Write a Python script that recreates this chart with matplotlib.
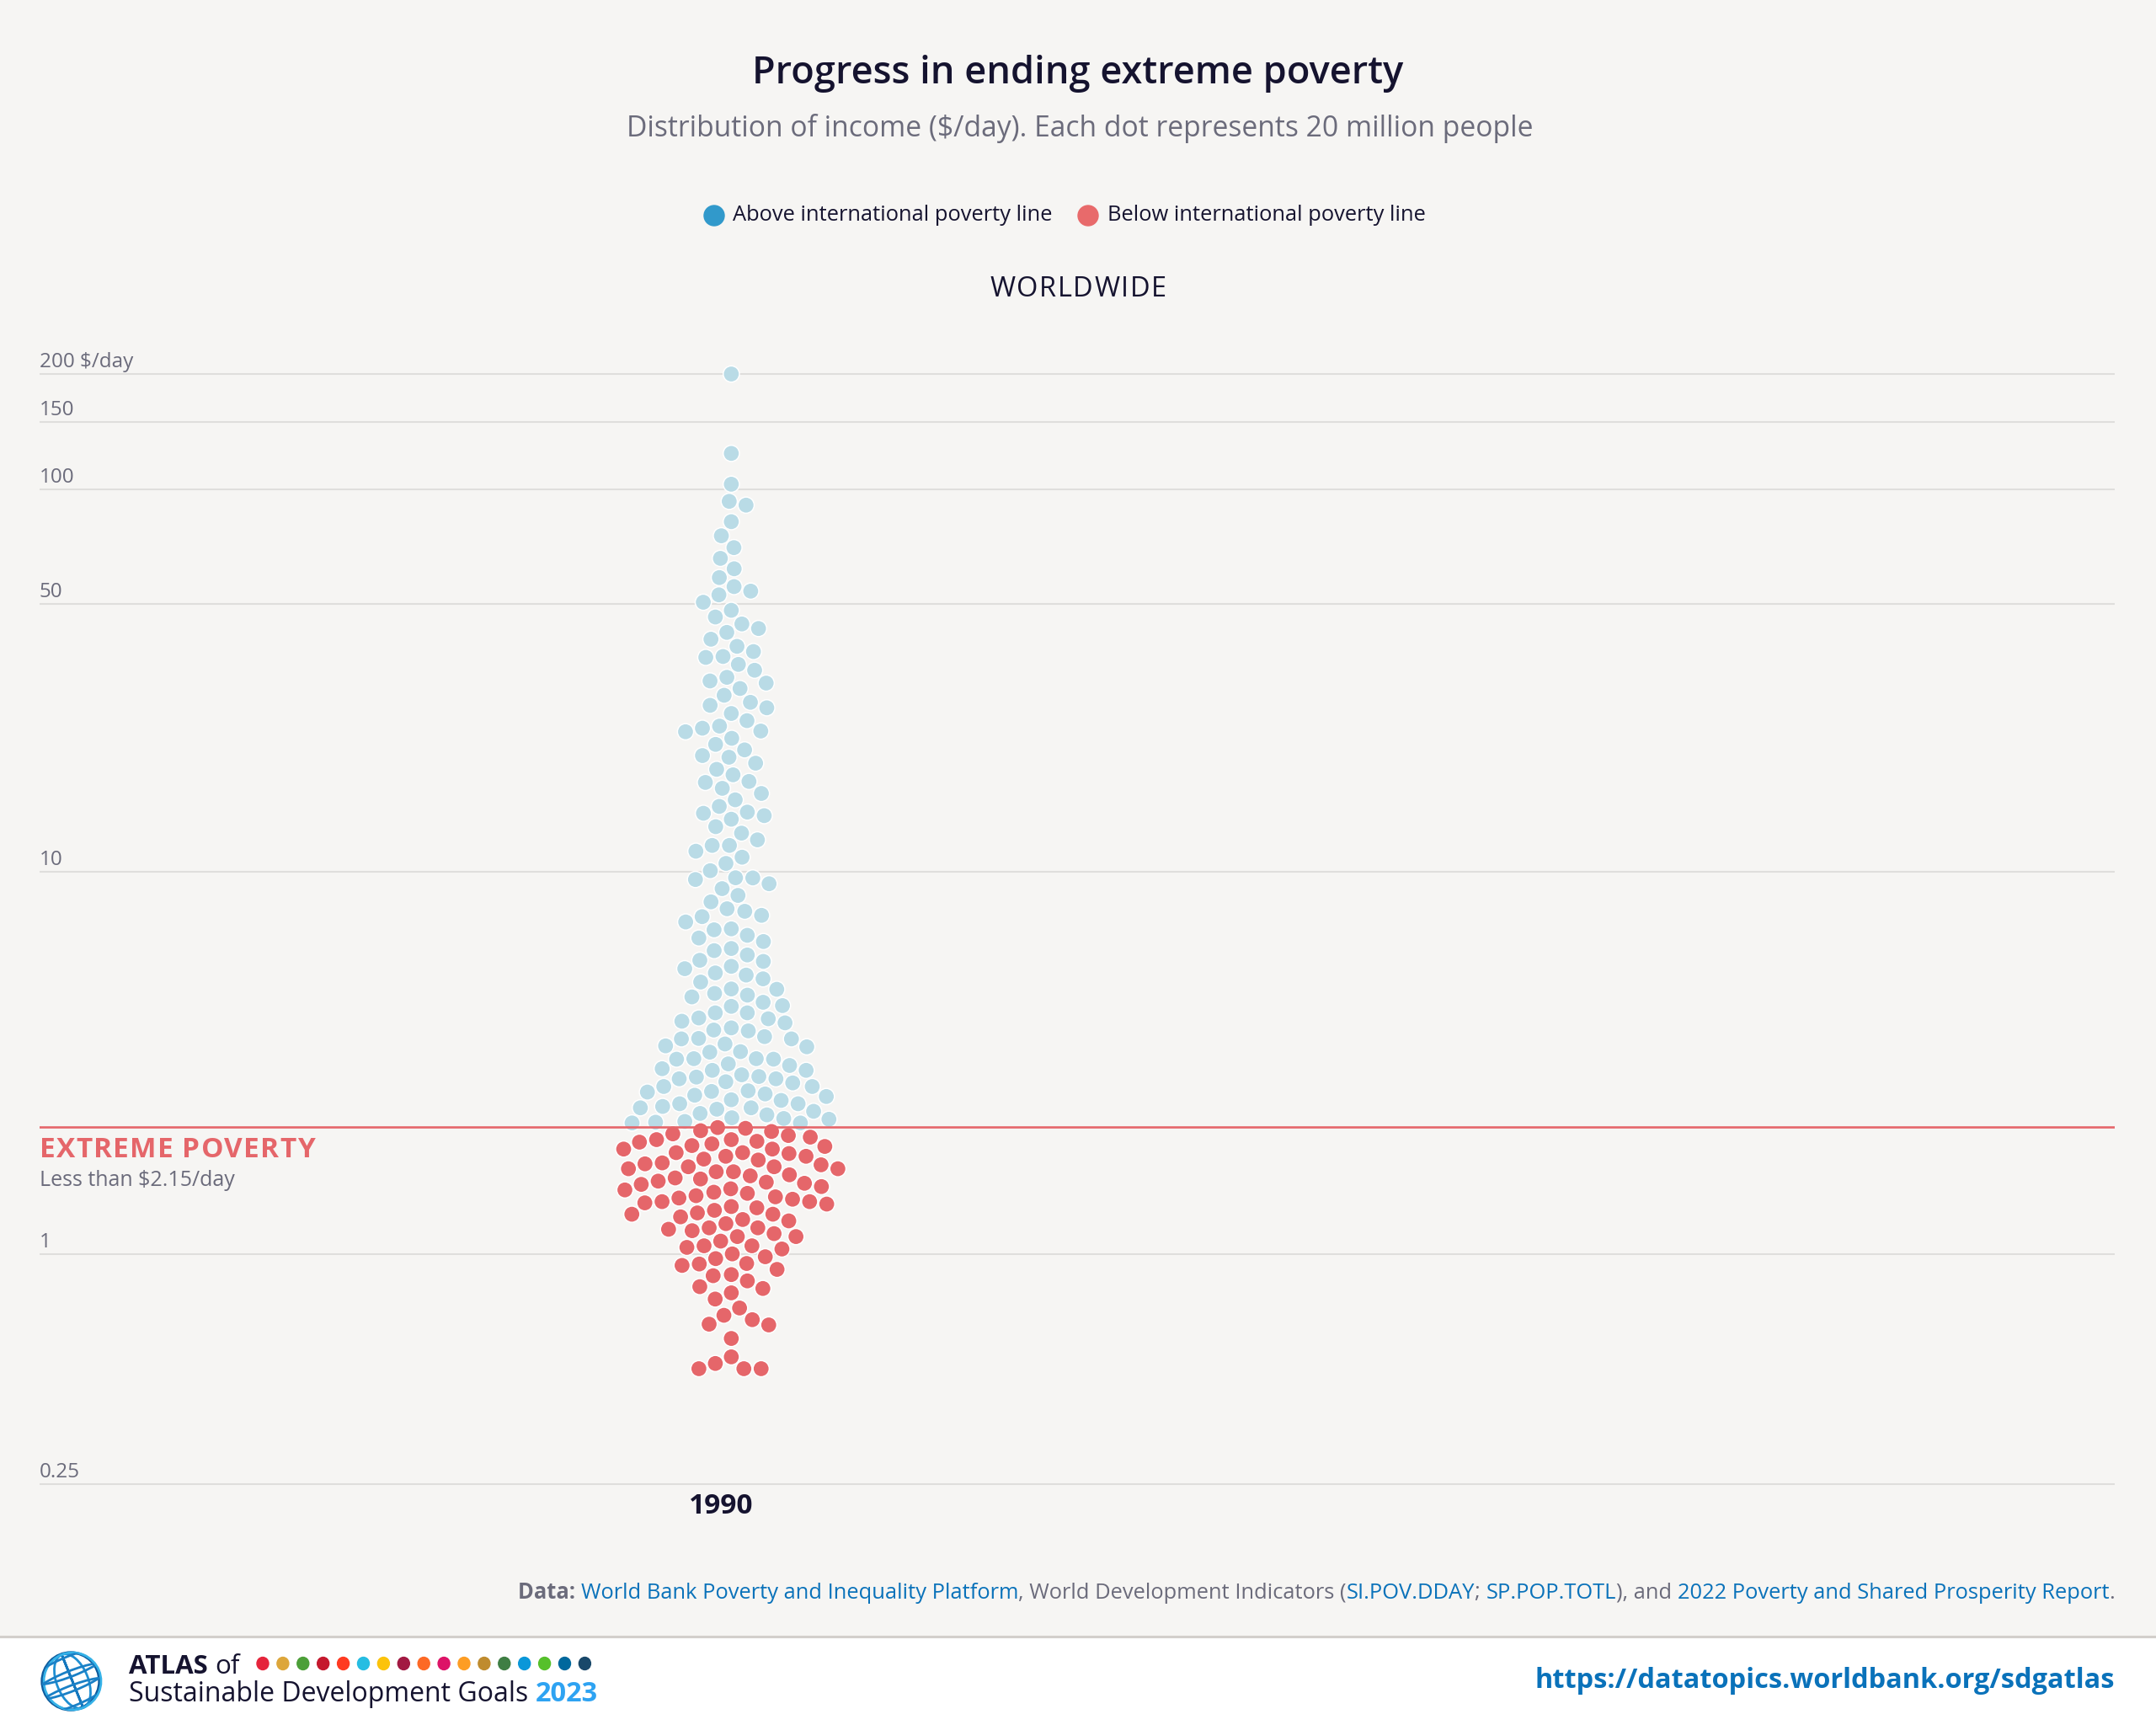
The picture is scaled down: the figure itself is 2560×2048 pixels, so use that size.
import matplotlib
matplotlib.use('Agg')
import matplotlib.pyplot as plt
from matplotlib.patches import Circle, Ellipse, Rectangle
from matplotlib.transforms import offset_copy
import numpy as np

plt.rcParams['font.family'] = ['Open Sans', 'DejaVu Sans']

# ---- data: income ($/day) of each dot, one dot = 20 million people (1990)
above_line = [200, 124, 103, 92.9, 90.8, 82.2, 75.5, 70.3, 65.9, 61.9, 58.7, 55.6, 52.9, 54.1, 50.6,
              48.2, 46.3, 44.4, 43.2, 42.2, 40.5, 38.8, 37.6, 36.3, 36.5, 34.8, 33.6, 32.2, 31.1, 31.5,
              30.1, 28.9, 27.2, 27.7, 26.8, 25.9, 24.8, 23.3, 23.7, 23.2, 24.0, 22.3, 21.5, 20.8, 20.1,
              19.9, 19.2, 18.5, 17.9, 17.2, 17.1, 16.5, 16.0, 15.4, 14.8, 14.0, 14.3, 14.2, 13.7, 13.1,
              12.6, 12.1, 11.7, 11.3, 11.7, 10.9, 10.5, 10.05, 9.62, 9.53, 9.63, 9.29, 9.02, 8.66,
              8.33, 7.87, 7.99, 7.68, 7.62, 7.38, 7.08, 7.04, 6.81, 6.56, 6.70, 6.29, 6.21, 6.05, 5.86,
              5.82, 5.57, 5.65, 5.43, 5.36, 5.24, 5.14, 4.92, 4.93, 4.80, 4.75, 4.70, 4.55, 4.44, 4.46,
              4.27, 4.27, 4.14, 4.12, 4.06, 4.02, 3.90, 3.85, 3.83, 3.66, 3.65, 3.65, 3.70, 3.50, 3.48,
              3.54, 3.37, 3.38, 3.24, 3.24, 3.23, 3.23, 3.11, 3.14, 3.05, 3.02, 3.02, 2.87, 2.90, 2.94,
              2.87, 2.91, 2.82, 2.80, 2.74, 2.74, 2.67, 2.62, 2.65, 2.66, 2.58, 2.60, 2.52, 2.47, 2.53,
              2.47, 2.36, 2.43, 2.41, 2.33, 2.39, 2.41, 2.31, 2.27, 2.26, 2.25, 2.21, 2.20, 2.22, 2.20]
below_line = [2.06, 2.13, 2.04, 2.10, 2.09, 2.14, 1.99, 1.96, 2.02, 1.97, 1.99, 1.91, 1.94, 1.88, 1.92,
              1.88, 1.84, 1.83, 1.84, 1.80, 1.80, 1.77, 1.76, 1.73, 1.72, 1.71, 1.67, 1.67, 1.69, 1.69,
              1.64, 1.64, 1.60, 1.61, 1.58, 1.57, 1.55, 1.54, 1.50, 1.52, 1.53, 1.48, 1.47, 1.45, 1.44,
              1.42, 1.41, 1.40, 1.39, 1.37, 1.37, 1.36, 1.35, 1.32, 1.30, 1.33, 1.28, 1.27, 1.27, 1.25,
              1.22, 1.23, 1.20, 1.17, 1.17, 1.16, 1.15, 1.13, 1.11, 1.11, 1.08, 1.04, 1.05, 1.05, 1.03,
              1.00, 0.983, 0.972, 0.944, 0.941, 0.933, 0.911, 0.883, 0.877, 0.850, 0.821, 0.812, 0.791,
              0.762, 0.722, 0.691, 0.673, 0.652, 0.655, 0.601, 0.538, 0.517, 0.501, 0.501, 0.501]
poverty_line = 2.15
years = ['1990']
tick_values = [200, 150, 100, 50, 10, 1, 0.25]
tick_labels = ['200 $/day', '150', '100', '50', '10', '1', '0.25']

# ---- colours
BG = '#f6f5f3'
NAVY = '#15132f'
GREY = '#6b6b7b'
LINK = '#0a72ba'
DOT_BLUE = '#b9dbe6'
DOT_RED = '#e5666a'
KEY_BLUE = '#3199cb'
KEY_RED = '#e86a6b'
GRID = '#dfdedc'

W, H = 2560, 2048
fig = plt.figure(figsize=(W / 100, H / 100), dpi=100, facecolor=BG)
r = fig.canvas.get_renderer()


def fx(x):
    return x / W


def fy(y):
    return 1 - y / H


def text_w(s, **kw):
    # width in pixels (keeps trailing spaces)
    t1 = fig.text(0, 0, '|' + s + '|', **kw)
    t2 = fig.text(0, 0, '||', **kw)
    w = t1.get_window_extent(r).width - t2.get_window_extent(r).width
    t1.remove()
    t2.remove()
    return w


def spaced(x, y, s, gap, ha='left', **kw):
    # text with letter spacing, x is left edge or centre
    ws = [text_w(ch, **kw) for ch in s]
    if ha == 'center':
        x -= (sum(ws) + gap * (len(s) - 1)) / 2
    for ch, w in zip(s, ws):
        fig.text(fx(x), fy(y), ch, ha='left', **kw)
        x += w + gap


# background decorations, pixel coordinates
deco = fig.add_axes([0, 0, 1, 1], zorder=0)
deco.set_xlim(0, W)
deco.set_ylim(H, 0)
deco.axis('off')
deco.add_patch(Rectangle((0, 1943), W, H - 1943, color='white', zorder=0))
deco.plot([0, W], [1943, 1943], color='#d3cfcb', lw=2.2, zorder=1)

# ---- main swarm axes
left, right, top, bottom = 47, 2511, 400, 1780
PPD, Y1 = 454.0, 1488.7  # pixels per decade, pixel row of $1
ax = fig.add_axes([fx(left), fy(bottom), (right - left) / W, (bottom - top) / H], zorder=1)
ax.set_facecolor('none')
ax.set_yscale('log')
ax.set_ylim(10 ** ((Y1 - bottom) / PPD), 10 ** ((Y1 - top) / PPD))
ax.set_xlim(-1, 2)
for s in ax.spines.values():
    s.set_visible(False)
ax.set_xticks([])
ax.set_yticks([])
ax.minorticks_off()

lab_tr = offset_copy(ax.get_yaxis_transform(), fig=fig, x=0, y=8, units='dots')
for v, lab in zip(tick_values, tick_labels):
    ax.axhline(v, color=GRID, lw=1.5, zorder=1)
    ax.text(0, v, lab, transform=lab_tr, ha='left', va='baseline', fontsize=17.5, color=GREY)

ax.axhline(poverty_line, color=DOT_RED, lw=1.9, zorder=4)

# ---- beeswarm layout (greedy, closest to the centre line)
vals = np.array(above_line + below_line)
cols = [DOT_BLUE] * len(above_line) + [DOT_RED] * len(below_line)
order = np.argsort(-vals, kind='stable')
disp = ax.transData.transform(np.column_stack([np.zeros(len(vals)), vals]))
D = 20.5
placed = []
dx = np.zeros(len(vals))
for i in order:
    y = disp[i, 1]
    near = [(px, py) for px, py in placed if abs(py - y) < D]
    cands = [0.0]
    for px, py in near:
        h = np.sqrt(D * D - (py - y) ** 2)
        cands += [px - h, px + h]
    cands.sort(key=abs)
    for c in cands:
        if all((c - px) ** 2 + (y - py) ** 2 >= D * D - 1e-6 for px, py in near):
            break
    dx[i] = c
    placed.append((c, y))

pts = ax.transData.inverted().transform(np.column_stack([disp[:, 0] + dx, disp[:, 1]]))
ax.scatter(pts[:, 0], vals, s=192, c=cols, edgecolors='white', linewidths=1.1, zorder=3, clip_on=False)

year_tr = offset_copy(ax.get_xaxis_transform(), fig=fig, x=-12, y=0, units='dots')
for k, yr in enumerate(years):
    ax.text(k, 0.006, yr, transform=year_tr, ha='center', va='top', fontsize=24,
            fontweight='bold', color=NAVY)

# ---- titles and legend
fig.text(fx(1280), fy(87), 'Progress in ending extreme poverty', ha='center', va='center',
         fontsize=32.5, fontweight='semibold', color=NAVY)
fig.text(fx(1282), fy(153), 'Distribution of income ($/day). Each dot represents 20 million people',
         ha='center', va='center', fontsize=24.2, color=GREY)
deco.add_patch(Circle((848, 256), 12, color=KEY_BLUE, zorder=2))
fig.text(fx(870), fy(256), 'Above international poverty line', ha='left', va='center',
         fontsize=18.4, color=NAVY)
deco.add_patch(Circle((1292, 256), 12, color=KEY_RED, zorder=2))
fig.text(fx(1315), fy(256), 'Below international poverty line', ha='left', va='center',
         fontsize=18.4, color=NAVY)
spaced(1280, 352, 'WORLDWIDE', 1.6, ha='center', va='baseline', fontsize=23.5, color=NAVY)

# poverty label with letter spacing
spaced(47, 1374, 'EXTREME POVERTY', 1.2, va='baseline', fontsize=24, fontweight='bold',
       color=DOT_RED)
fig.text(fx(47), fy(1408), 'Less than $2.15/day', ha='left', va='baseline', fontsize=18, color=GREY)

# ---- source line (right aligned, mixed colours)
pieces = [('Data: ', GREY, 'bold'),
          ('World Bank Poverty and Inequality Platform', LINK, 'normal'),
          (', World Development Indicators (', GREY, 'normal'),
          ('SI.POV.DDAY', LINK, 'normal'),
          ('; ', GREY, 'normal'),
          ('SP.POP.TOTL', LINK, 'normal'),
          ('), and ', GREY, 'normal'),
          ('2022 Poverty and Shared Prosperity Report', LINK, 'normal'),
          ('.', GREY, 'normal')]
widths = [text_w(p, fontsize=18.4, fontweight=wt) for p, c, wt in pieces]
xx = 2511 - sum(widths)
for (p, c, wt), w in zip(pieces, widths):
    fig.text(fx(xx), fy(1891), p, ha='left', va='center', fontsize=18.4, fontweight=wt, color=c)
    xx += w

# ---- footer: logo, atlas name, url
gx, gy, gr = 84, 1996, 34
rim = Circle((gx, gy), gr, fill=False, lw=2.4, ec='#0e5c9e', zorder=3)
deco.add_patch(rim)
for wf, c in [(0.0, '#1577bd'), (0.55, '#1f8fd2'), (1.0, '#35b2e8')]:
    e = Ellipse((gx + 2, gy), 2 * gr * wf, 2 * gr, angle=-22, fill=False, lw=2.0, ec=c, zorder=3)
    deco.add_patch(e)
for off in [-18, 0, 18]:
    e = Ellipse((gx, gy + off), 3.0 * gr, 0.7 * gr, angle=-22, fill=False, lw=2.0,
                ec='#1a80c6', zorder=3)
    deco.add_patch(e)
    e.set_clip_path(rim)

fig.text(fx(153), fy(1987), 'ATLAS', ha='left', va='baseline', fontsize=22.5, fontweight='bold',
         color=NAVY)
fig.text(fx(153 + text_w('ATLAS ', fontsize=22.5, fontweight='bold')), fy(1987), 'of', ha='left',
         va='baseline', fontsize=22.5, color=NAVY)
sdg_colors = ['#e5243b', '#dda63a', '#4c9f38', '#c5192d', '#ff3a21', '#26bde2', '#fcc30b',
              '#a21942', '#fd6925', '#dd1367', '#fd9d24', '#bf8b2e', '#3f7e44', '#0a97d9',
              '#56c02b', '#00689d', '#19486a']
for k, c in enumerate(sdg_colors):
    deco.add_patch(Ellipse((312 + k * 23.9, 1975), 14, 15, color=c, zorder=3))
fig.text(fx(153), fy(2020), 'Sustainable Development Goals ', ha='left', va='baseline',
         fontsize=23, color=NAVY)
fig.text(fx(153 + text_w('Sustainable Development Goals ', fontsize=23)), fy(2020), '2023',
         ha='left', va='baseline', fontsize=23.5, fontweight='bold', color='#2ea3f2')
fig.text(fx(2511), fy(1995), 'https://datatopics.worldbank.org/sdgatlas', ha='right',
         va='center', fontsize=23.4, fontweight='bold', color=LINK)

fig.savefig('out.png', dpi=100, facecolor=BG)
